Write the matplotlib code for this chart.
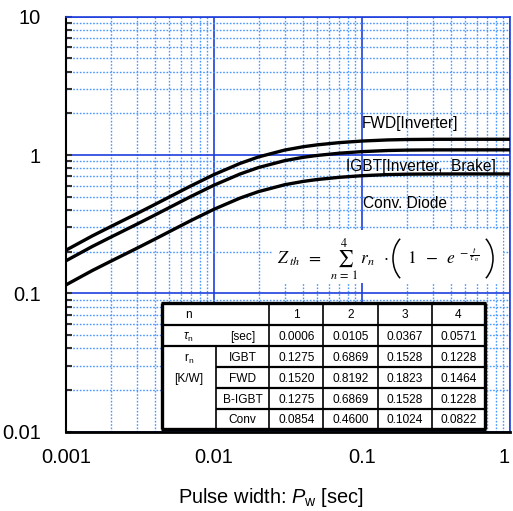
import matplotlib
matplotlib.use("Agg")
import matplotlib.pyplot as plt
from matplotlib.patches import Rectangle, Arc
from matplotlib.lines import Line2D

plt.rcParams['font.family'] = ['Liberation Sans', 'DejaVu Sans']
plt.rcParams['mathtext.fontset'] = 'custom'
plt.rcParams['mathtext.rm'] = 'Liberation Sans'
plt.rcParams['mathtext.it'] = 'Liberation Sans:italic'

# ---- data ----
pulse_width = [0.001, 0.0015, 0.002, 0.003, 0.004, 0.005, 0.007, 0.01, 0.015, 0.02,
               0.03, 0.04, 0.05, 0.07, 0.1, 0.15, 0.2, 0.3, 0.5, 1.0]
z_fwd = [0.2052, 0.2597, 0.3034, 0.3764, 0.4401, 0.4979, 0.5992, 0.7221, 0.8699, 0.9691,
         1.0859, 1.1479, 1.1852, 1.2289, 1.2625, 1.2863, 1.2947, 1.2991, 1.2999, 1.3000]
z_igbt = [0.1721, 0.2178, 0.2544, 0.3156, 0.3690, 0.4175, 0.5024, 0.6055, 0.7294, 0.8126,
          0.9105, 0.9625, 0.9938, 1.0304, 1.0586, 1.0786, 1.0856, 1.0893, 1.0900, 1.0900]
z_conv = [0.1152, 0.1459, 0.1704, 0.2114, 0.2471, 0.2796, 0.3365, 0.4055, 0.4885, 0.5442,
          0.6098, 0.6446, 0.6656, 0.6901, 0.7090, 0.7223, 0.7271, 0.7295, 0.7300, 0.7300]
curve_labels = ['FWD[Inverter]', 'IGBT[Inverter,  Brake]', 'Conv. Diode']

x_ticks = [0.001, 0.01, 0.1, 1]
x_ticklabels = ['0.001', '0.01', '0.1', '1']
y_ticks = [0.01, 0.1, 1, 10]
y_ticklabels = ['0.01', '0.1', '1', '10']

table_header = ['n', '', '1', '2', '3', '4']
tau_row = ['$\\tau_\\mathrm{n}$', '[sec]', '0.0006', '0.0105', '0.0367', '0.0571']
r_names = ['IGBT', 'FWD', 'B-IGBT', 'Conv']
r_values = [['0.1275', '0.6869', '0.1528', '0.1228'],
            ['0.1520', '0.8192', '0.1823', '0.1464'],
            ['0.1275', '0.6869', '0.1528', '0.1228'],
            ['0.0854', '0.4600', '0.1024', '0.0822']]

W, H = 513, 511
fig = plt.figure(figsize=(W / 100, H / 100), dpi=100)
ax = fig.add_axes([66 / W, 1 - 431.7 / H, (510 - 66) / W, (431.7 - 16.7) / H])
ax.set_xscale('log')
ax.set_yscale('log')
ax.set_xlim(0.001, 1)
ax.set_ylim(0.01, 10)

major_c = '#1f3fdd'
minor_c = '#4a98ff'
ax.grid(which='major', color=major_c, lw=1.2, ls='-')
ax.grid(which='minor', color=minor_c, lw=1.0, ls=(0, (1.2, 1.2)))
ax.set_axisbelow(True)

for y in (z_fwd, z_igbt, z_conv):
    ax.plot(pulse_width, y, color='black', lw=2.4, solid_capstyle='butt', zorder=4)

ax.set_xticks(x_ticks)
ax.set_xticklabels(x_ticklabels)
ax.set_yticks(y_ticks)
ax.set_yticklabels(y_ticklabels)
ax.tick_params(axis='x', which='both', length=0, pad=12, labelsize=14.4)
ax.tick_params(axis='y', which='both', direction='in', length=4, width=1.5, pad=18, labelsize=14.4, color='#333333')
ax.tick_params(axis='y', which='minor', labelleft=False)
xl = ax.get_xticklabels()
xl[-1].set_horizontalalignment('right')
xl[-1].set_x(1.0)

ax.spines['left'].set_linewidth(1.5)
ax.spines['bottom'].set_linewidth(2.0)
ax.spines['top'].set_color(major_c)
ax.spines['top'].set_linewidth(1.2)
ax.spines['right'].set_color(major_c)
ax.spines['right'].set_linewidth(1.2)

fig.text(271 / W, 1 - 497 / H, 'Pulse width: $\\mathit{P}_{\\mathrm{w}}$ [sec]',
         ha='center', va='center', fontsize=14.4)


def px(x, y):
    return x / W, 1 - y / H


# curve labels
fig.text(*px(361.5, 123), curve_labels[0], fontsize=11.2, va='center', ha='left', zorder=6)
fig.text(*px(346.5, 166), curve_labels[1], fontsize=11.2, va='center', ha='left', zorder=6)
fig.text(*px(363, 204), curve_labels[2], fontsize=11.2, va='center', ha='left', zorder=6)

# formula box
x0, y0 = px(273, 283)
fig.patches.append(Rectangle((x0, y0), (503 - 273) / W, (283 - 230) / H, transform=fig.transFigure,
                             facecolor='white', edgecolor='none', zorder=5))
fig.text(*px(277, 264), r'$Z_{\;th}\;\;=\;\;\sum_{n\,=\,1}^{4}\;r_n\;\;\cdot$',
         math_fontfamily='stix', fontsize=12.5, ha='left', va='baseline', zorder=6)
fig.text(*px(407, 264), r'$1\;\;-\;\;e^{\;-\frac{t}{\tau_{\;n}}}$',
         math_fontfamily='stix', fontsize=12.5, ha='left', va='baseline', zorder=6)
# large thin parentheses
a, b = 21.0, 26.3
for xc, t1, t2 in [(393 + a, 125, 235), (493 - a, -55, 55)]:
    cxf, cyf = px(xc, 258.5)
    fig.patches.append(Arc((cxf, cyf), 2 * a / W, 2 * b / H, theta1=t1, theta2=t2,
                           transform=fig.transFigure, color='black', lw=1.1, zorder=6))

# table
cols = [161.7, 215.7, 269.3, 323.3, 377.7, 431.7, 485.0]
rows = [303.3, 325.0, 346.0, 367.3, 388.3, 409.0, 429.3]
tx0, ty0 = px(cols[0], rows[-1])
fig.patches.append(Rectangle((tx0, ty0), (cols[-1] - cols[0]) / W, (rows[-1] - rows[0]) / H,
                             transform=fig.transFigure, facecolor='white', edgecolor='none', zorder=5))


def hline(x1, x2, y, lw):
    fig.lines.append(Line2D([x1 / W, x2 / W], [1 - y / H, 1 - y / H], transform=fig.transFigure,
                            color='black', lw=lw, zorder=7, solid_capstyle='butt'))


def vline(x, y1, y2, lw):
    fig.lines.append(Line2D([x / W, x / W], [1 - y1 / H, 1 - y2 / H], transform=fig.transFigure,
                            color='black', lw=lw, zorder=7, solid_capstyle='butt'))


hline(cols[1], cols[-1], rows[3], 1.6)
hline(cols[1], cols[-1], rows[4], 1.6)
hline(cols[1], cols[-1], rows[5], 1.6)
hline(cols[0], cols[-1], rows[1], 1.6)
hline(cols[0], cols[-1], rows[2], 1.6)
vline(cols[1], rows[2], rows[-1], 1.2)
for c in cols[2:-1]:
    vline(c, rows[0], rows[-1], 1.2)
lwb = 2.4
hline(cols[0] - 1, cols[-1] + 1, rows[0], lwb)
hline(cols[0] - 1, cols[-1] + 1, rows[-1], lwb)
vline(cols[0], rows[0], rows[-1], lwb)
vline(cols[-1], rows[0], rows[-1], lwb)

fs_t = 8.6


def cell(text, x, y):
    fig.text(*px(x, y), text, fontsize=fs_t, ha='center', va='center', zorder=8)


def cx(i):
    return (cols[i] + cols[i + 1]) / 2


def cy(j):
    return (rows[j] + rows[j + 1]) / 2


cell(table_header[0], cx(0), cy(0) + 1)
for i in range(2, 6):
    cell(table_header[i], cx(i), cy(0) + 1)
cell(tau_row[0], cx(0), cy(1) + 2)
for i in range(1, 6):
    cell(tau_row[i], cx(i), cy(1) + 1)
cell('$\\mathrm{r}_\\mathrm{n}$', cx(0), 359)
cell('[K/W]', cx(0), 379)
for j, name in enumerate(r_names):
    cell(name, cx(1), cy(2 + j) + 1)
    for i, v in enumerate(r_values[j]):
        cell(v, cx(2 + i), cy(2 + j) + 1)

fig.savefig('out.png', dpi=100)
